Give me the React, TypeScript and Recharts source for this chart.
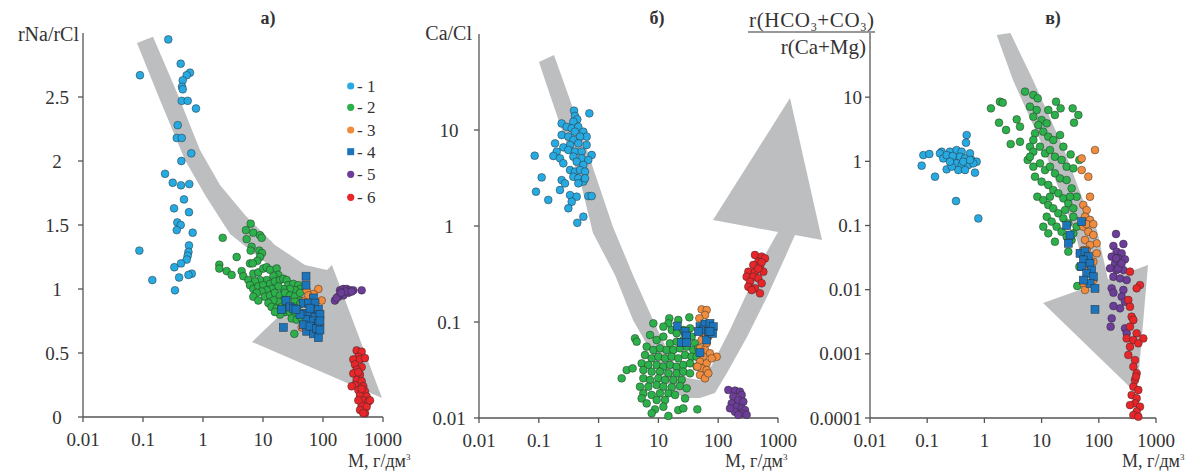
import React from "react";
import { ScatterChart, Scatter, XAxis, YAxis } from "recharts";

type P = [number, number];

const FONT = '"Liberation Serif", "Times New Roman", serif';
const TEXT = "#333";
const AXIS = "#555";
const GRAY = "#bcbec0";

const groupColors = ["#27aae1", "#2bb04a", "#f08c3e", "#1b75bc", "#6c3d99", "#e8262a"];
const legendLabels = ["- 1", "- 2", "- 3", "- 4", "- 5", "- 6"];
const xTicks = [0.01, 0.1, 1, 10, 100, 1000];

// ---- panel а) rNa/rCl ----
const a1: P[] = [
  [0.264, 2.95], [0.089, 2.67], [0.425, 2.76], [0.607, 2.69], [0.535, 2.67], [0.459, 2.63],
  [0.447, 2.58], [0.459, 2.56], [0.442, 2.47], [0.556, 2.47], [0.764, 2.41], [0.379, 2.28],
  [0.365, 2.18], [0.442, 2.18], [0.638, 2.06], [0.435, 2.0], [0.233, 1.9], [0.313, 1.83],
  [0.43, 1.81], [0.591, 1.82], [0.482, 1.7], [0.329, 1.63], [0.584, 1.6], [0.373, 1.52],
  [0.425, 1.5], [0.365, 1.46], [0.673, 1.44], [0.584, 1.34], [0.572, 1.29], [0.556, 1.26],
  [0.535, 1.23], [0.43, 1.2], [0.333, 1.17], [0.087, 1.3], [0.65, 1.12], [0.572, 1.11],
  [0.4, 1.09], [0.143, 1.07], [0.341, 0.99],
];
const a2: P[] = [
  [6.23, 1.51], [5.2, 1.46], [6.9, 1.44], [8.91, 1.42], [9.5, 1.4], [2.13, 1.4], [5.34, 1.39],
  [6.47, 1.33], [6.23, 1.3], [8.69, 1.3], [9.62, 1.28], [3.64, 1.25], [8.91, 1.25], [8.05, 1.22],
  [6.07, 1.2], [6.73, 1.2], [1.87, 1.19], [1.87, 1.16], [2.48, 1.14], [3.0, 1.11], [4.41, 1.14],
  [4.7, 1.1], [5.7, 1.07], [6.9, 1.12], [8.36, 1.13], [10.1, 1.16], [11.5, 1.17], [13.1, 1.15],
  [16.9, 1.16], [18.0, 1.11], [14.9, 1.1], [11.5, 1.07], [8.91, 1.07], [7.36, 1.06], [6.07, 1.03],
  [6.9, 1.0], [8.36, 1.02], [10.1, 1.03], [13.1, 1.04], [15.8, 1.06], [19.2, 1.07], [21.8, 1.08],
  [24.8, 1.07], [26.4, 1.03], [32.0, 1.04], [38.8, 1.03], [41.4, 1.0], [34.1, 0.99], [28.2, 1.0],
  [21.8, 1.0], [18.0, 1.02], [13.9, 1.0], [11.5, 0.99], [9.5, 0.98], [7.84, 0.97], [6.9, 0.94],
  [8.36, 0.91], [10.8, 0.94], [13.1, 0.95], [15.8, 0.97], [19.2, 0.95], [23.3, 0.97], [28.2, 0.95],
  [34.1, 0.94], [41.4, 0.97], [41.4, 0.91], [34.1, 0.9], [24.8, 0.91], [21.8, 0.91], [18.0, 0.9],
  [14.9, 0.91], [12.3, 0.89], [13.9, 0.86], [16.9, 0.85], [20.5, 0.86], [24.8, 0.88], [30.1, 0.86],
  [36.4, 0.85], [41.4, 0.88], [23.3, 0.82], [28.2, 0.82], [34.1, 0.81], [41.4, 0.8], [19.2, 0.8],
  [15.8, 0.82], [30.1, 0.77], [36.4, 0.76], [44.1, 0.77], [33.3, 0.65],
];
const a3: P[] = [
  [53.5, 0.99], [83.6, 1.0], [95, 0.91], [69, 0.96], [60.7, 0.73], [89, 0.72], [50.1, 0.91],
  [44.1, 0.7], [73.6, 0.69], [57, 0.95],
];
const a4: P[] = [
  [52.1, 1.1], [52.1, 1.03], [69, 0.93], [24.2, 0.91], [28.2, 0.86], [32, 0.85], [20.5, 0.84],
  [47, 0.89], [57, 0.89], [73.6, 0.89], [83.6, 0.84], [50.1, 0.81], [60.7, 0.8], [73.6, 0.78],
  [89.1, 0.8], [53.5, 0.76], [69, 0.75], [83.6, 0.73], [21.8, 0.7], [53.5, 0.67], [69, 0.65],
  [83.6, 0.62], [47, 0.72], [60.7, 0.71], [78.4, 0.69], [41.4, 0.8], [35.5, 0.84], [89, 0.75],
  [89, 0.68], [60.7, 0.85],
];
const a5: P[] = [
  [192, 0.99], [218, 1.0], [248, 1.0], [282, 0.99], [320, 0.99], [264, 0.97], [218, 0.95],
  [180, 0.94], [158, 0.91], [169, 0.93], [441, 0.99], [240, 0.98], [200, 0.97], [300, 0.98],
];
const a6: P[] = [
  [364, 0.52], [441, 0.51], [388, 0.47], [320, 0.45], [414, 0.45], [501, 0.46], [341, 0.41],
  [441, 0.39], [364, 0.37], [320, 0.34], [414, 0.33], [364, 0.29], [441, 0.28], [341, 0.25],
  [470, 0.24], [388, 0.21], [501, 0.2], [414, 0.17], [534, 0.16], [470, 0.13], [570, 0.12],
  [441, 0.09], [534, 0.08], [414, 0.055], [501, 0.03], [607, 0.13], [388, 0.13], [300, 0.24],
  [470, 0.03], [388, 0.35], [441, 0.22],
];
const arrowA: P[] = [
  [0.147, 2.97], [0.383, 2.516], [0.891, 2.086], [1.92, 1.8125], [5.01, 1.578], [15.8, 1.344],
  [50.1, 1.1875], [116.6, 1.148], [141, 1.1875], [962, 0.148], [6.56, 0.586], [41.4, 0.945],
  [28.2, 1.055], [8.91, 1.242], [2.82, 1.43], [1.08, 1.734], [0.501, 2.008], [0.192, 2.477],
  [0.0794, 2.922],
];

// ---- panel б) Ca/Cl ----
const b1: P[] = [
  [0.388, 15.9], [0.403, 14.0], [0.7, 14.9], [0.44, 12.9], [0.378, 12.2], [0.241, 11.7],
  [0.292, 10.8], [0.355, 10.4], [0.458, 10.8], [0.556, 9.6], [0.631, 8.53], [0.403, 9.6],
  [0.241, 8.87], [0.312, 8.53], [0.489, 8.53], [0.378, 7.87], [0.187, 7.26], [0.333, 6.98],
  [0.458, 7.26], [0.631, 6.98], [0.257, 6.6], [0.312, 6.19], [0.403, 5.95], [0.521, 5.95],
  [0.766, 5.49], [0.199, 5.95], [0.175, 5.36], [0.226, 5.07], [0.0853, 5.4], [0.378, 5.28],
  [0.521, 5.07], [0.673, 4.87], [0.43, 4.68], [0.257, 4.5], [0.556, 4.32], [0.333, 3.83],
  [0.403, 3.68], [0.489, 3.83], [0.593, 3.68], [0.378, 3.26], [0.458, 3.14], [0.556, 2.9],
  [0.241, 3.01], [0.274, 2.78], [0.1117, 3.21], [0.226, 2.37], [0.0897, 2.28], [0.333, 2.1],
  [0.43, 2.02], [0.673, 2.05], [0.766, 2.05], [0.355, 1.79], [0.144, 1.87], [0.312, 1.53],
  [0.556, 1.25], [0.44, 1.08], [0.593, 3.14], [0.458, 2.78],
];
const b2: P[] = [
  [8.23, 0.0968], [15.2, 0.1092], [14.7, 0.0968], [32.9, 0.1119], [21.5, 0.1049], [12.1, 0.0894],
  [16.7, 0.0825], [20.2, 0.0762], [26.1, 0.0825], [33.8, 0.0859], [4.06, 0.0676], [4.33, 0.0624],
  [7.24, 0.0732], [9.35, 0.0649], [12.1, 0.0704], [15.6, 0.06], [20.2, 0.0624], [26.1, 0.0649],
  [36.0, 0.0704], [40.9, 0.06], [6.37, 0.0553], [8.23, 0.0511], [10.6, 0.0532], [13.7, 0.0511],
  [17.8, 0.0511], [23.0, 0.0532], [29.7, 0.0553], [38.4, 0.0511], [46.5, 0.0532], [5.97, 0.0453],
  [7.72, 0.0418], [9.97, 0.0435], [12.9, 0.0418], [16.7, 0.0435], [21.5, 0.0418], [27.9, 0.0453],
  [36.0, 0.0435], [43.6, 0.0435], [5.25, 0.0371], [6.79, 0.0357], [9.35, 0.0357], [12.1, 0.0343],
  [15.6, 0.0357], [20.2, 0.0343], [26.1, 0.0357], [33.8, 0.0371], [43.6, 0.0343], [2.95, 0.0316],
  [3.71, 0.0329], [5.6, 0.0316], [7.72, 0.0304], [10.6, 0.0304], [14.7, 0.0292], [20.2, 0.0292],
  [26.1, 0.0304], [33.8, 0.0292], [2.43, 0.0259], [5.6, 0.0259], [7.24, 0.0249], [9.97, 0.0259],
  [12.9, 0.0249], [17.8, 0.0249], [24.5, 0.0249], [4.92, 0.0212], [6.79, 0.0212], [9.35, 0.0221],
  [12.1, 0.0212], [16.7, 0.0209], [23.0, 0.0215], [29.7, 0.0204], [5.6, 0.0181], [7.72, 0.0174],
  [10.6, 0.0181], [14.7, 0.0181], [19.0, 0.0174], [5.25, 0.016], [9.35, 0.0154], [12.9, 0.0154],
  [27.9, 0.016], [6.37, 0.0142], [12.1, 0.0131], [8.77, 0.0123], [7.72, 0.0112], [14.7, 0.0105],
  [21.5, 0.0121], [26.1, 0.0126], [44.8, 0.0123],
];
const b3: P[] = [
  [52.9, 0.1355], [64.1, 0.1334], [60.2, 0.1183], [48.4, 0.1092], [68.4, 0.0704], [52.9, 0.0649],
  [64.1, 0.06], [49.6, 0.0532], [60.2, 0.0511], [72.9, 0.0472], [56.4, 0.0435], [94.3, 0.0435],
  [49.6, 0.0386], [64.1, 0.0371], [52.9, 0.0329], [64.1, 0.0316], [49.6, 0.0281], [60.2, 0.0259],
  [68.4, 0.0292], [77.7, 0.0418], [56.4, 0.0762], [44.8, 0.0343],
];
const b4: P[] = [
  [20.7, 0.0908], [27.9, 0.0793], [29.7, 0.0715], [24.5, 0.0609], [29.7, 0.0609], [49.6, 0.0894],
  [60.2, 0.0953], [72.9, 0.0968], [56.4, 0.0825], [68.4, 0.0793], [82.9, 0.0894], [64.1, 0.0649],
  [49.6, 0.0479], [80.8, 0.0762], [46.5, 0.0793], [72.9, 0.08],
];
const b5: P[] = [
  [147.7, 0.0196], [191, 0.0193], [231, 0.0188], [247, 0.0174], [179, 0.0167], [217, 0.0154],
  [263, 0.0148], [168, 0.0142], [204, 0.0131], [247, 0.0126], [281, 0.0121], [191, 0.0116],
  [247, 0.0112], [299, 0.0108], [217, 0.0108], [157.5, 0.0126],
];
const b6: P[] = [
  [412, 0.499], [533, 0.48], [606, 0.46], [469, 0.425], [387, 0.393], [500, 0.377], [319, 0.334],
  [412, 0.334], [569, 0.334], [299, 0.296], [387, 0.296], [469, 0.285], [340, 0.263], [533, 0.253],
  [319, 0.233], [412, 0.224], [500, 0.199], [363, 0.215], [469, 0.36], [533, 0.42],
];
const arrowB: P[] = [
  [0.1795, 60.4], [0.333, 20.5], [0.64, 6.19], [1.74, 0.976], [3.76, 0.309], [8.13, 0.105],
  [16.9, 0.0402], [30.1, 0.0261], [49.6, 0.0249], [78.8, 0.0356], [157, 0.0825], [303, 0.2],
  [606, 0.499], [1000, 0.866], [81.8, 1.155], [1588, 21.5], [5445, 0.714], [1923, 0.805],
  [1415, 0.523], [655, 0.182], [303, 0.0698], [140, 0.0294], [88.4, 0.0182], [49.6, 0.0162],
  [25.8, 0.0162], [13.9, 0.0232], [7.24, 0.0511], [3.76, 0.105], [1.88, 0.309], [0.805, 0.845],
  [0.489, 3.01], [0.254, 9.3], [0.154, 23.2], [0.1007, 51.1],
];

// ---- panel в) r(HCO3+CO3)/r(Ca+Mg) ----
const v1: P[] = [
  [0.49, 2.57], [0.477, 1.95], [0.179, 1.41], [0.0856, 1.25], [0.109, 1.3], [0.167, 1.33],
  [0.25, 1.41], [0.327, 1.5], [0.4, 1.41], [0.56, 1.33], [0.08, 0.856], [0.137, 0.577],
  [0.219, 0.75], [0.191, 1.11], [0.25, 1.18], [0.306, 1.11], [0.375, 1.18], [0.458, 1.11],
  [0.599, 1.05], [0.733, 0.988], [0.327, 0.93], [0.4, 0.876], [0.524, 0.876], [0.641, 0.93],
  [0.35, 0.732], [0.458, 0.732], [0.685, 0.666], [0.268, 0.826], [0.219, 1.25], [0.319, 0.241],
  [0.783, 0.129], [0.279, 1.21], [0.428, 0.988], [0.25, 0.988], [0.56, 1.05],
];
const v2: P[] = [
  [1.3, 6.69], [1.87, 8.5], [2.09, 8.2], [1.8, 4.0], [2.39, 3.08], [2.88, 1.86], [4.19, 2.02],
  [3.67, 4.51], [4.19, 3.47], [5.13, 12.2], [7.17, 10.8], [8.54, 9.58], [17.9, 8.5], [21.5, 6.69],
  [34.9, 6.69], [43.9, 5.27], [36.9, 4.0], [17.1, 5.27], [13.1, 6.31], [6.27, 7.11], [8.2, 6.31],
  [7.17, 4.96], [10.0, 4.4], [12.3, 3.91], [8.77, 3.68], [7.67, 2.73], [10.7, 2.9], [13.1, 2.42],
  [16.0, 2.15], [21.0, 2.57], [24.0, 1.69], [32.2, 1.28], [45.7, 1.05], [6.27, 1.69], [7.17, 1.41],
  [9.38, 1.69], [11.5, 1.33], [14.0, 1.5], [17.1, 1.18], [22.4, 1.05], [27.4, 0.825], [35.9, 0.777],
  [5.71, 1.05], [7.17, 0.825], [9.38, 0.93], [11.5, 0.732], [14.0, 0.825], [17.1, 0.65],
  [21.0, 0.543], [27.4, 0.511], [33.5, 0.379], [41.0, 0.281], [7.67, 0.577], [10.0, 0.482],
  [13.1, 0.428], [16.0, 0.357], [19.6, 0.317], [24.0, 0.265], [29.3, 0.221], [35.9, 0.185],
  [8.42, 0.281], [10.7, 0.249], [13.1, 0.209], [16.0, 0.185], [19.6, 0.155], [24.0, 0.129],
  [29.3, 0.108], [35.9, 0.137], [41.0, 0.0958], [12.3, 0.137], [15.0, 0.115], [18.3, 0.0958],
  [22.4, 0.0801], [27.4, 0.0669], [33.5, 0.0594], [10.7, 0.0958], [13.1, 0.0754], [17.1, 0.0559],
  [29.3, 0.0391], [45.7, 0.0228], [42.1, 0.0114], [35.9, 0.0754], [7.17, 2.15], [6.27, 1.18],
  [14.0, 0.281], [31.4, 0.281], [25.7, 0.174],
];
const v3: P[] = [
  [85.8, 1.5], [50.2, 1.11], [50.2, 0.732], [65.6, 0.577], [70.2, 0.281], [53.6, 0.209],
  [61.4, 0.174], [57.4, 0.137], [70.2, 0.122], [53.6, 0.0958], [65.6, 0.0801], [80.2, 0.0711],
  [91.8, 0.0527], [57.4, 0.0594], [70.2, 0.0497], [53.6, 0.0415], [91.8, 0.0368], [80.2, 0.0273],
  [46.9, 0.0368], [57.4, 0.0228], [80.2, 0.0141], [53.6, 0.0125], [57.4, 0.0099], [61.4, 0.105],
  [80.2, 0.105], [61.4, 0.0415],
];
const v4: P[] = [
  [27.4, 0.0994], [31.4, 0.0711], [29.3, 0.0527], [50.2, 0.115], [46.9, 0.0368], [57.4, 0.0391],
  [65.6, 0.0327], [53.6, 0.029], [70.2, 0.0257], [50.2, 0.0228], [75.0, 0.0202], [61.4, 0.018],
  [80.2, 0.0159], [70.2, 0.0125], [85.8, 0.0105], [53.6, 0.0141], [85.8, 0.00494],
];
const v5: P[] = [
  [200, 0.0737], [180, 0.0479], [269, 0.0515], [205, 0.0391], [251, 0.0368], [168, 0.0327],
  [219, 0.0308], [287, 0.0297], [192, 0.0257], [235, 0.0242], [157, 0.0215], [205, 0.0202],
  [269, 0.0202], [180, 0.0159], [235, 0.015], [307, 0.0141], [168, 0.0105], [269, 0.00988],
  [180, 0.00898], [251, 0.00778], [287, 0.0065], [235, 0.00512], [180, 0.00556], [168, 0.00357],
  [161, 0.00265], [287, 0.0025], [307, 0.00209], [219, 0.0215], [251, 0.0257], [200, 0.0308],
];
const v6: P[] = [
  [351, 0.0191], [525, 0.0118], [459, 0.0105], [328, 0.0069], [351, 0.00543], [375, 0.00379],
  [402, 0.00337], [351, 0.00265], [459, 0.00209], [600, 0.00174], [307, 0.00174], [402, 0.00164],
  [491, 0.00146], [351, 0.00129], [328, 0.00096], [429, 0.0008], [402, 0.00063], [459, 0.000497],
  [429, 0.000391], [402, 0.000308], [491, 0.000273], [375, 0.000228], [459, 0.000203],
  [429, 0.000169], [351, 0.000159], [525, 0.00015], [459, 0.000126], [402, 0.000111],
  [491, 0.000105], [447, 0.000441],
];
const arrowV: P[] = [
  [2.85, 100], [7.08, 18.5], [23.7, 1.67], [57.4, 0.208], [93.0, 0.0851], [145, 0.0144],
  [725, 0.0242], [466, 0.000237], [10.6, 0.0062], [64.7, 0.011], [41.6, 0.0594], [25.6, 0.208],
  [10.6, 1.67], [3.16, 18.5], [1.64, 93],
];

const toRows = (pts: P[]) => pts.map(([x, y]) => ({ x, y }));

type PanelCfg = {
  left: number;
  top: number;
  w: number;
  h: number;
  yScale: "linear" | "log";
  yDomain: [number, number];
  yTicks: number[];
  yAnchor: "middle" | "end";
  yTickMargin: number;
  groups: P[][];
  arrow: P[];
};

const panels: PanelCfg[] = [
  {
    left: 83, top: 33, w: 300, h: 384, yScale: "linear", yDomain: [0, 3],
    yTicks: [0, 0.5, 1, 1.5, 2, 2.5], yAnchor: "middle", yTickMargin: 21,
    groups: [a1, a2, a3, a4, a5, a6], arrow: arrowA,
  },
  {
    left: 479, top: 34, w: 299, h: 384, yScale: "log", yDomain: [0.01, 100],
    yTicks: [0.01, 0.1, 1, 10], yAnchor: "middle", yTickMargin: 25,
    groups: [b1, b2, b3, b4, b5, b6], arrow: arrowB,
  },
  {
    left: 870, top: 33, w: 286, h: 385, yScale: "log", yDomain: [0.0001, 100],
    yTicks: [0.0001, 0.001, 0.01, 0.1, 1, 10], yAnchor: "end", yTickMargin: 3,
    groups: [v1, v2, v3, v4, v5, v6], arrow: arrowV,
  },
];

const Dot = (color: string, square: boolean) => (props: any) => {
  const { cx, cy } = props;
  if (cx == null || cy == null) return <g />;
  return square ? (
    <rect x={cx - 4} y={cy - 4} width={8} height={8} fill={color} stroke="#2b2b2b" strokeWidth={0.6} strokeOpacity={0.8} />
  ) : (
    <circle cx={cx} cy={cy} r={3.9} fill={color} stroke="#2b2b2b" strokeWidth={0.6} strokeOpacity={0.8} />
  );
};

function Panel({ cfg }: { cfg: PanelCfg }) {
  const axisStyle = { stroke: AXIS, strokeWidth: 1.3 };
  return (
    <>
      {/* gray arrow, drawn on a wider domain so the head may pass 1000 */}
      <div style={{ position: "absolute", left: 0, top: 0 }}>
        <ScatterChart
          width={cfg.left + cfg.w * 1.2}
          height={cfg.top + cfg.h}
          margin={{ top: cfg.top, left: cfg.left, right: 0, bottom: 0 }}
        >
          <XAxis type="number" dataKey="x" scale="log" domain={[0.01, 10000]} allowDataOverflow hide />
          <YAxis type="number" dataKey="y" scale={cfg.yScale} domain={cfg.yDomain} allowDataOverflow hide />
          <Scatter
            data={toRows(cfg.arrow)}
            shape={() => <g />}
            line={{ fill: GRAY, stroke: "none" }}
            lineType="joint"
            isAnimationActive={false}
          />
        </ScatterChart>
      </div>
      <div style={{ position: "absolute", left: 0, top: 0 }}>
        <ScatterChart
          width={cfg.left + cfg.w + 40}
          height={472}
          margin={{ top: cfg.top, left: cfg.left - 60, right: 40, bottom: 472 - cfg.top - cfg.h - 30 }}
        >
          <XAxis
            type="number"
            dataKey="x"
            scale="log"
            domain={[0.01, 1000]}
            ticks={xTicks}
            interval={0}
            height={30}
            tickSize={5}
            tickMargin={11}
            axisLine={axisStyle}
            tickLine={axisStyle}
            tick={(p: any) => (
              <text x={p.x} y={p.y} dy="0.71em" textAnchor="middle" fontFamily={FONT} fontSize={19} fill={TEXT}>
                {String(p.payload.value)}
              </text>
            )}
          />
          <YAxis
            type="number"
            dataKey="y"
            scale={cfg.yScale}
            domain={cfg.yDomain}
            ticks={cfg.yTicks}
            interval={0}
            width={60}
            tickSize={5}
            tickMargin={cfg.yTickMargin}
            axisLine={axisStyle}
            tickLine={axisStyle}
            tick={(p: any) => (
              <text x={p.x} y={p.y} dy="0.35em" textAnchor={cfg.yAnchor} fontFamily={FONT} fontSize={19} fill={TEXT}>
                {String(p.payload.value)}
              </text>
            )}
          />
          {cfg.groups.map((g, i) => (
            <Scatter
              key={i}
              data={toRows(g)}
              shape={Dot(groupColors[i], i === 3)}
              isAnimationActive={false}
            />
          ))}
        </ScatterChart>
      </div>
    </>
  );
}

const xLabelStarts = [348, 725, 1122];
const titles = [
  { t: "а)", x: 268 },
  { t: "б)", x: 657 },
  { t: "в)", x: 1053 },
];
const legendRows = [86, 107.3, 130, 151.7, 174.3, 197.3];

function Labels() {
  const txt = { fontFamily: FONT, fill: TEXT };
  return (
    <svg width={1203} height={472} style={{ position: "absolute", left: 0, top: 0, pointerEvents: "none" }}>
      {titles.map((t) => (
        <text key={t.t} x={t.x} y={24} textAnchor="middle" fontSize={18} fontWeight="bold" {...txt}>
          {t.t}
        </text>
      ))}
      <text x={79} y={41} textAnchor="end" fontSize={20} {...txt}>rNa/rCl</text>
      <text x={472} y={40} textAnchor="end" fontSize={20} {...txt}>Ca/Cl</text>
      <text x={749} y={27} fontSize={21} textLength={125} lengthAdjust="spacing" {...txt}>
        r(HCO<tspan fontSize={12} dy={4}>3</tspan>
        <tspan dy={-4}>+CO</tspan>
        <tspan fontSize={12} dy={4}>3</tspan>
        <tspan dy={-4}>)</tspan>
      </text>
      <line x1={748} x2={875} y1={32} y2={32} stroke={TEXT} strokeWidth={1.2} />
      <text x={866} y={54} textAnchor="end" fontSize={21} {...txt}>r(Ca+Mg)</text>
      {xLabelStarts.map((x) => (
        <text key={x} x={x} y={467} fontSize={18} {...txt}>
          M, г/дм<tspan fontSize={9} dy={-7}>3</tspan>
        </text>
      ))}
      {legendRows.map((y, i) =>
        i === 3 ? (
          <rect key={i} x={347.2} y={y - 3.5} width={7} height={7} fill={groupColors[i]} />
        ) : (
          <circle key={i} cx={350.7} cy={y} r={3.6} fill={groupColors[i]} />
        )
      )}
      {legendRows.map((y, i) => (
        <text key={"l" + i} x={357} y={y + 6} fontSize={17} {...txt}>
          {legendLabels[i]}
        </text>
      ))}
    </svg>
  );
}

export default function App() {
  return (
    <div style={{ position: "absolute", left: 0, top: 0, width: 1203, height: 472, background: "#fff", overflow: "hidden" }}>
      {panels.map((cfg, i) => (
        <Panel key={i} cfg={cfg} />
      ))}
      <Labels />
    </div>
  );
}
